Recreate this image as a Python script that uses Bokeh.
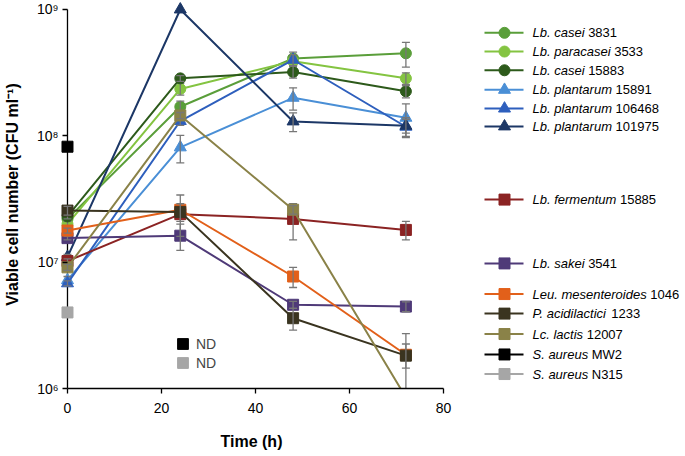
from bokeh.plotting import figure
from bokeh.models import Range1d, FixedTicker, Legend, LegendItem
from bokeh.layouts import row
from bokeh.embed import file_html
from bokeh.resources import INLINE
from bokeh.core.properties import value

FONT = "Liberation Sans"

# ---------------- data ----------------
time_h = [0, 24, 48, 72]
x_ticks = [0, 20, 40, 60, 80]
y_ticks = [1e6, 1e7, 1e8, 1e9]
y_tick_labels = ["10\u2076", "10\u2077", "10\u2078", "10\u2079"]

species = ["Lb. casei", "Lb. paracasei", "Lb. casei", "Lb. plantarum", "Lb. plantarum",
           "Lb. plantarum", "Lb. fermentum", "Lb. sakei", "Leu. mesenteroides",
           "P. acidilactici", "Lc. lactis", "S. aureus", "S. aureus"]
strains = ["3831", "3533", "15883", "15891", "106468", "101975", "15885", "3541",
           "1046", "1233", "12007", "MW2", "N315"]

casei_3831 = [2.2e7, 1.7e8, 4.1e8, 4.5e8]
casei_3831_err = [1.5e6, 1.8e7, 5.0e7, 1.0e8]
paracasei_3533 = [2.0e7, 2.35e8, 3.9e8, 2.85e8]
paracasei_3533_err = [1.0e6, 2.5e7, 3.0e7, 3.0e7]
casei_15883 = [2.3e7, 2.85e8, 3.2e8, 2.25e8]
casei_15883_err = [1.0e6, 1.5e7, 3.4e7, 2.5e7]
plantarum_15891 = [7.2e6, 8.1e7, 2.0e8, 1.39e8]
plantarum_15891_err = [5.0e5, 2.0e7, 4.0e7, 4.0e7]
plantarum_106468 = [6.8e6, 1.31e8, 4.0e8, 1.18e8]
plantarum_106468_err = [3.0e5, 1.0e7, 4.0e7, 2.1e7]
plantarum_101975 = [1.1e7, 1.0e9, 1.3e8, 1.2e8]
plantarum_101975_err = [5.0e5, 0.0, 2.2e7, 1.5e7]
fermentum_15885 = [1.02e7, 2.4e7, 2.2e7, 1.8e7]
fermentum_15885_err = [4.0e5, 3.0e6, 7.0e6, 3.0e6]
sakei_3541 = [1.55e7, 1.62e7, 4.6e6, 4.45e6]
sakei_3541_err = [5.0e5, 3.8e6, 3.0e5, 4.0e5]
leu_1046 = [1.78e7, 2.6e7, 7.7e6, 1.85e6]
leu_1046_err = [8.0e5, 3.0e6, 1.4e6, 4.0e5]
pedio_1233 = [2.56e7, 2.5e7, 3.6e6, 1.82e6]
pedio_1233_err = [2.0e6, 9.0e6, 7.0e5, 9.0e5]
lactis_12007 = [9.1e6, 1.45e8, 2.6e7, 8.5e5]
lactis_12007_err = [5.0e5, 8.0e6, 2.0e6, 0.0]
aureus_mw2 = [8.2e7]
aureus_mw2_err = [0.0]
aureus_n315 = [4.0e6]
aureus_n315_err = [0.0]

values = [casei_3831, paracasei_3533, casei_15883, plantarum_15891, plantarum_106468,
          plantarum_101975, fermentum_15885, sakei_3541, leu_1046, pedio_1233,
          lactis_12007, aureus_mw2, aureus_n315]
errors = [casei_3831_err, paracasei_3533_err, casei_15883_err, plantarum_15891_err,
          plantarum_106468_err, plantarum_101975_err, fermentum_15885_err, sakei_3541_err,
          leu_1046_err, pedio_1233_err, lactis_12007_err, aureus_mw2_err, aureus_n315_err]

markers = ["circle"] * 3 + ["triangle"] * 3 + ["square"] * 7
colors = ["#5a9e3a", "#84c441", "#2d5a1b", "#4a8fd6", "#2e5fbd", "#1c3766",
          "#8b2323", "#4f3a78", "#e2601a", "#3a3420", "#8a8248", "#000000", "#a6a6a6"]
msizes = {"circle": 11, "triangle": 12, "square": 11}

# ---------------- main plot ----------------
H = 456
p = figure(width=455, height=H, output_backend="svg", toolbar_location=None,
           y_axis_type="log", x_range=Range1d(-1.7, 80), y_range=Range1d(1e6, 1.178e9),
           min_border_left=58, min_border_right=12, min_border_top=0, min_border_bottom=68)
p.outline_line_color = None
p.grid.grid_line_color = None

# y-axis line drawn at x = 0 (the frame starts slightly left of 0 so markers are not cut)
p.segment([x_ticks[0]], [y_ticks[0]], [x_ticks[0]], [y_ticks[-1]],
          line_color="#000000", line_width=1.3)

ERR = "#777777"
scatter_r = []
for vals, errs, mk, col in zip(values, errors, markers, colors):
    xs = time_h[:len(vals)]
    p.line(xs, vals, line_color=col, line_width=2)
    up = [v + e for v, e in zip(vals, errs)]
    lo = [max(v - e, 1e5) for v, e in zip(vals, errs)]
    r = p.scatter(xs, vals, marker=mk, size=msizes[mk], fill_color=col, line_color=col)
    scatter_r.append(r)
    bx = [x for x, e in zip(xs, errs) if e > 0]
    bu = [u for u, e in zip(up, errs) if e > 0]
    bl = [l for l, e in zip(lo, errs) if e > 0]
    if bx:
        p.segment(bx, bl, bx, bu, line_color=ERR, line_width=1.3)
        p.scatter(bx, bu, marker="dash", size=8, line_color=ERR, line_width=1.3)
        p.scatter(bx, bl, marker="dash", size=8, line_color=ERR, line_width=1.3)

p.xaxis.ticker = FixedTicker(ticks=x_ticks)
p.yaxis.ticker = FixedTicker(ticks=y_ticks)
p.yaxis.major_label_overrides = {t: l for t, l in zip(y_ticks, y_tick_labels)}
p.xaxis.bounds = (0, 80)
for ax in (p.xaxis, p.yaxis):
    ax.minor_tick_line_color = None
    ax.minor_tick_out = 0
    ax.minor_tick_in = 0
    ax.axis_line_color = "#000000"
    ax.axis_line_width = 1.3
    ax.major_tick_line_color = "#000000"
    ax.major_tick_line_width = 1.3
    ax.major_label_text_font = FONT
    ax.major_label_text_font_size = "14px"
    ax.major_label_text_color = "#000000"
    ax.axis_label_text_font = FONT
    ax.axis_label_text_font_style = "bold"
    ax.axis_label_text_font_size = "16px"
    ax.axis_label_text_color = "#000000"
p.xaxis.axis_label = "Time (h)"
p.xaxis.major_tick_in = 0
p.xaxis.major_tick_out = 5
p.xaxis.major_label_standoff = 9
p.xaxis.axis_label_standoff = 17
# y ticks: drawn just left of x = 0 (which sits 8 px inside the frame)
p.yaxis.axis_label = "Viable cell number (CFU ml\u207b\u00b9)"
p.yaxis.axis_line_color = None
p.yaxis.major_tick_in = 8
p.yaxis.major_tick_out = -3
p.yaxis.major_label_standoff = 1
p.yaxis.axis_label_standoff = 13

# "ND" key inside the plot
for idx, ly in ((11, 31), (12, 12)):
    p.add_layout(Legend(items=[LegendItem(label="ND", renderers=[scatter_r[idx]])],
                        location=(110, ly), glyph_width=27, glyph_height=27,
                        label_standoff=0, padding=0, margin=0, border_line_color=None,
                        background_fill_alpha=0, label_text_font=FONT,
                        label_text_font_size="14px"))

# ---------------- right-hand legend ----------------
ARIAL_W = {"L": 556, "b": 556, ".": 278, " ": 278, "c": 500, "a": 556, "s": 500,
           "e": 556, "i": 222, "p": 556, "r": 333, "n": 556, "t": 278, "u": 556,
           "m": 833, "f": 278, "k": 500, "o": 556, "d": 556, "P": 667, "S": 667, "l": 222}
LFS = 13

def text_w(s):
    return sum(ARIAL_W.get(ch, 556) for ch in s) * LFS / 1000.0

LX0 = 455
leg_y = [38, 60, 82, 105, 127, 148, 234, 309, 345, 368, 392, 416, 439]

lg = figure(width=230, height=H, output_backend="svg", toolbar_location=None,
            x_range=Range1d(0, 230), y_range=Range1d(H, 0),
            min_border_left=0, min_border_right=0, min_border_top=0, min_border_bottom=0)
lg.axis.visible = False
lg.grid.grid_line_color = None
lg.outline_line_color = None
for i, (sp, st, mk, col) in enumerate(zip(species, strains, markers, colors)):
    yy = leg_y[i]
    tx = 532 - LX0
    lg.segment([484 - LX0], [yy], [523 - LX0], [yy], line_color=col, line_width=2)
    lg.scatter([504 - LX0], [yy], marker=mk, size=msizes[mk], fill_color=col, line_color=col)
    lg.text([tx], [yy], text=[sp], text_font=value(FONT), text_font_style="italic",
            text_font_size=f"{LFS}px", text_baseline="middle", text_color="#000000")
    lg.text([tx + text_w(sp + " ")], [yy], text=[st], text_font=value(FONT),
            text_font_size=f"{LFS}px", text_baseline="middle", text_color="#000000")

layout = row(p, lg)
open("out.html", "w").write(file_html(layout, INLINE))
